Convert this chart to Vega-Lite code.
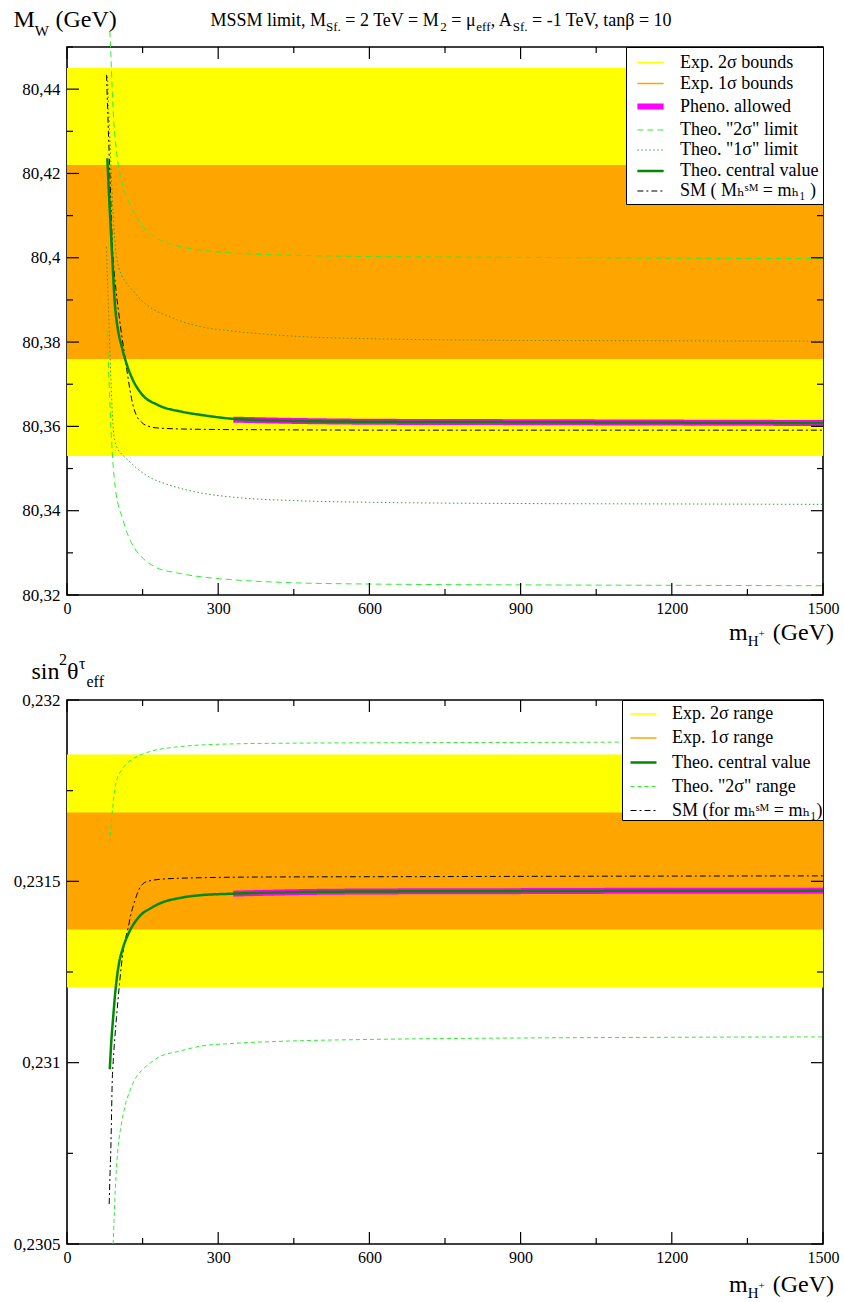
{
  "$schema": "https://vega.github.io/schema/vega-lite/v6.json",
  "background": "white",
  "padding": {"left": 12, "top": 7, "right": 0, "bottom": 0},
  "datasets": {
    "x_ticks": [{"v": 0}, {"v": 150}, {"v": 300}, {"v": 450}, {"v": 600}, {"v": 750}, {"v": 900}, {"v": 1050}, {"v": 1200}, {"v": 1350}, {"v": 1500}],
    "mw_ticks": [{"v": 80.32}, {"v": 80.33}, {"v": 80.34}, {"v": 80.35}, {"v": 80.36}, {"v": 80.37}, {"v": 80.38}, {"v": 80.39}, {"v": 80.4}, {"v": 80.41}, {"v": 80.42}, {"v": 80.43}, {"v": 80.44}, {"v": 80.45}],
    "s2_ticks": [{"v": 0.2305}, {"v": 0.23075}, {"v": 0.231}, {"v": 0.23125}, {"v": 0.2315}, {"v": 0.23175}, {"v": 0.232}],
    "mw_bands": [
      {"band": "2σ", "lo": 80.353, "hi": 80.445},
      {"band": "1σ", "lo": 80.376, "hi": 80.422}
    ],
    "mw_lines": [
      {"series": "Pheno. allowed", "part": "p", "mh": 330, "mw": 80.3616},
      {"series": "Pheno. allowed", "part": "p", "mh": 450, "mw": 80.3613},
      {"series": "Pheno. allowed", "part": "p", "mh": 600, "mw": 80.3611},
      {"series": "Pheno. allowed", "part": "p", "mh": 900, "mw": 80.361},
      {"series": "Pheno. allowed", "part": "p", "mh": 1200, "mw": 80.3609},
      {"series": "Pheno. allowed", "part": "p", "mh": 1500, "mw": 80.3608},

      {"series": "Theo. \"2σ\" limit", "part": "u", "mh": 85, "mw": 80.4537},
      {"series": "Theo. \"2σ\" limit", "part": "u", "mh": 86.5, "mw": 80.45},
      {"series": "Theo. \"2σ\" limit", "part": "u", "mh": 89.6, "mw": 80.44},
      {"series": "Theo. \"2σ\" limit", "part": "u", "mh": 93, "mw": 80.432},
      {"series": "Theo. \"2σ\" limit", "part": "u", "mh": 98, "mw": 80.4255},
      {"series": "Theo. \"2σ\" limit", "part": "u", "mh": 104.7, "mw": 80.42},
      {"series": "Theo. \"2σ\" limit", "part": "u", "mh": 112, "mw": 80.4165},
      {"series": "Theo. \"2σ\" limit", "part": "u", "mh": 120, "mw": 80.414},
      {"series": "Theo. \"2σ\" limit", "part": "u", "mh": 132, "mw": 80.411},
      {"series": "Theo. \"2σ\" limit", "part": "u", "mh": 147.7, "mw": 80.4078},
      {"series": "Theo. \"2σ\" limit", "part": "u", "mh": 180, "mw": 80.4045},
      {"series": "Theo. \"2σ\" limit", "part": "u", "mh": 213.8, "mw": 80.403},
      {"series": "Theo. \"2σ\" limit", "part": "u", "mh": 266.7, "mw": 80.4018},
      {"series": "Theo. \"2σ\" limit", "part": "u", "mh": 330, "mw": 80.4011},
      {"series": "Theo. \"2σ\" limit", "part": "u", "mh": 450, "mw": 80.4006},
      {"series": "Theo. \"2σ\" limit", "part": "u", "mh": 600, "mw": 80.4003},
      {"series": "Theo. \"2σ\" limit", "part": "u", "mh": 900, "mw": 80.4001},
      {"series": "Theo. \"2σ\" limit", "part": "u", "mh": 1200, "mw": 80.3999},
      {"series": "Theo. \"2σ\" limit", "part": "u", "mh": 1500, "mw": 80.3998},

      {"series": "Theo. \"2σ\" limit", "part": "l", "mh": 79.7, "mw": 80.3824},
      {"series": "Theo. \"2σ\" limit", "part": "l", "mh": 81, "mw": 80.378},
      {"series": "Theo. \"2σ\" limit", "part": "l", "mh": 83, "mw": 80.372},
      {"series": "Theo. \"2σ\" limit", "part": "l", "mh": 85, "mw": 80.366},
      {"series": "Theo. \"2σ\" limit", "part": "l", "mh": 87, "mw": 80.36},
      {"series": "Theo. \"2σ\" limit", "part": "l", "mh": 89, "mw": 80.3555},
      {"series": "Theo. \"2σ\" limit", "part": "l", "mh": 91, "mw": 80.3515},
      {"series": "Theo. \"2σ\" limit", "part": "l", "mh": 94, "mw": 80.3475},
      {"series": "Theo. \"2σ\" limit", "part": "l", "mh": 98, "mw": 80.3435},
      {"series": "Theo. \"2σ\" limit", "part": "l", "mh": 103, "mw": 80.3408},
      {"series": "Theo. \"2σ\" limit", "part": "l", "mh": 108, "mw": 80.339},
      {"series": "Theo. \"2σ\" limit", "part": "l", "mh": 120, "mw": 80.3345},
      {"series": "Theo. \"2σ\" limit", "part": "l", "mh": 134.5, "mw": 80.331},
      {"series": "Theo. \"2σ\" limit", "part": "l", "mh": 150, "mw": 80.3288},
      {"series": "Theo. \"2σ\" limit", "part": "l", "mh": 174, "mw": 80.3267},
      {"series": "Theo. \"2σ\" limit", "part": "l", "mh": 220, "mw": 80.3252},
      {"series": "Theo. \"2σ\" limit", "part": "l", "mh": 266.7, "mw": 80.3243},
      {"series": "Theo. \"2σ\" limit", "part": "l", "mh": 330, "mw": 80.3236},
      {"series": "Theo. \"2σ\" limit", "part": "l", "mh": 450, "mw": 80.3229},
      {"series": "Theo. \"2σ\" limit", "part": "l", "mh": 600, "mw": 80.3226},
      {"series": "Theo. \"2σ\" limit", "part": "l", "mh": 900, "mw": 80.3224},
      {"series": "Theo. \"2σ\" limit", "part": "l", "mh": 1200, "mw": 80.3223},
      {"series": "Theo. \"2σ\" limit", "part": "l", "mh": 1500, "mw": 80.3222},

      {"series": "Theo. \"1σ\" limit", "part": "u", "mh": 80.5, "mw": 80.443},
      {"series": "Theo. \"1σ\" limit", "part": "u", "mh": 82, "mw": 80.4375},
      {"series": "Theo. \"1σ\" limit", "part": "u", "mh": 84, "mw": 80.4315},
      {"series": "Theo. \"1σ\" limit", "part": "u", "mh": 86, "mw": 80.4255},
      {"series": "Theo. \"1σ\" limit", "part": "u", "mh": 88, "mw": 80.4195},
      {"series": "Theo. \"1σ\" limit", "part": "u", "mh": 90, "mw": 80.414},
      {"series": "Theo. \"1σ\" limit", "part": "u", "mh": 93, "mw": 80.4075},
      {"series": "Theo. \"1σ\" limit", "part": "u", "mh": 96, "mw": 80.4025},
      {"series": "Theo. \"1σ\" limit", "part": "u", "mh": 101, "mw": 80.3985},
      {"series": "Theo. \"1σ\" limit", "part": "u", "mh": 108, "mw": 80.396},
      {"series": "Theo. \"1σ\" limit", "part": "u", "mh": 118, "mw": 80.394},
      {"series": "Theo. \"1σ\" limit", "part": "u", "mh": 131, "mw": 80.3922},
      {"series": "Theo. \"1σ\" limit", "part": "u", "mh": 148, "mw": 80.3898},
      {"series": "Theo. \"1σ\" limit", "part": "u", "mh": 168, "mw": 80.388},
      {"series": "Theo. \"1σ\" limit", "part": "u", "mh": 200, "mw": 80.3862},
      {"series": "Theo. \"1σ\" limit", "part": "u", "mh": 227, "mw": 80.3849},
      {"series": "Theo. \"1σ\" limit", "part": "u", "mh": 267, "mw": 80.3836},
      {"series": "Theo. \"1σ\" limit", "part": "u", "mh": 330, "mw": 80.3826},
      {"series": "Theo. \"1σ\" limit", "part": "u", "mh": 450, "mw": 80.3814},
      {"series": "Theo. \"1σ\" limit", "part": "u", "mh": 600, "mw": 80.3808},
      {"series": "Theo. \"1σ\" limit", "part": "u", "mh": 900, "mw": 80.3804},
      {"series": "Theo. \"1σ\" limit", "part": "u", "mh": 1200, "mw": 80.3803},
      {"series": "Theo. \"1σ\" limit", "part": "u", "mh": 1500, "mw": 80.3802},

      {"series": "Theo. \"1σ\" limit", "part": "l", "mh": 78.3, "mw": 80.4026},
      {"series": "Theo. \"1σ\" limit", "part": "l", "mh": 80, "mw": 80.396},
      {"series": "Theo. \"1σ\" limit", "part": "l", "mh": 82, "mw": 80.389},
      {"series": "Theo. \"1σ\" limit", "part": "l", "mh": 84, "mw": 80.382},
      {"series": "Theo. \"1σ\" limit", "part": "l", "mh": 86, "mw": 80.375},
      {"series": "Theo. \"1σ\" limit", "part": "l", "mh": 88, "mw": 80.3685},
      {"series": "Theo. \"1σ\" limit", "part": "l", "mh": 90, "mw": 80.3628},
      {"series": "Theo. \"1σ\" limit", "part": "l", "mh": 92, "mw": 80.359},
      {"series": "Theo. \"1σ\" limit", "part": "l", "mh": 95, "mw": 80.3565},
      {"series": "Theo. \"1σ\" limit", "part": "l", "mh": 100, "mw": 80.3548},
      {"series": "Theo. \"1σ\" limit", "part": "l", "mh": 108, "mw": 80.3535},
      {"series": "Theo. \"1σ\" limit", "part": "l", "mh": 121, "mw": 80.352},
      {"series": "Theo. \"1σ\" limit", "part": "l", "mh": 140, "mw": 80.3499},
      {"series": "Theo. \"1σ\" limit", "part": "l", "mh": 167.6, "mw": 80.3477},
      {"series": "Theo. \"1σ\" limit", "part": "l", "mh": 200, "mw": 80.3462},
      {"series": "Theo. \"1σ\" limit", "part": "l", "mh": 266.7, "mw": 80.3442},
      {"series": "Theo. \"1σ\" limit", "part": "l", "mh": 330, "mw": 80.3432},
      {"series": "Theo. \"1σ\" limit", "part": "l", "mh": 450, "mw": 80.3424},
      {"series": "Theo. \"1σ\" limit", "part": "l", "mh": 600, "mw": 80.342},
      {"series": "Theo. \"1σ\" limit", "part": "l", "mh": 900, "mw": 80.3417},
      {"series": "Theo. \"1σ\" limit", "part": "l", "mh": 1200, "mw": 80.3416},
      {"series": "Theo. \"1σ\" limit", "part": "l", "mh": 1500, "mw": 80.3415},

      {"series": "SM ( Mₕˢᴹ = mₕ₁ )", "part": "s", "mh": 78.5, "mw": 80.4434},
      {"series": "SM ( Mₕˢᴹ = mₕ₁ )", "part": "s", "mh": 80, "mw": 80.4375},
      {"series": "SM ( Mₕˢᴹ = mₕ₁ )", "part": "s", "mh": 82, "mw": 80.4305},
      {"series": "SM ( Mₕˢᴹ = mₕ₁ )", "part": "s", "mh": 84, "mw": 80.4235},
      {"series": "SM ( Mₕˢᴹ = mₕ₁ )", "part": "s", "mh": 86, "mw": 80.4165},
      {"series": "SM ( Mₕˢᴹ = mₕ₁ )", "part": "s", "mh": 88, "mw": 80.4095},
      {"series": "SM ( Mₕˢᴹ = mₕ₁ )", "part": "s", "mh": 90, "mw": 80.403},
      {"series": "SM ( Mₕˢᴹ = mₕ₁ )", "part": "s", "mh": 93, "mw": 80.3975},
      {"series": "SM ( Mₕˢᴹ = mₕ₁ )", "part": "s", "mh": 97, "mw": 80.3925},
      {"series": "SM ( Mₕˢᴹ = mₕ₁ )", "part": "s", "mh": 101.5, "mw": 80.388},
      {"series": "SM ( Mₕˢᴹ = mₕ₁ )", "part": "s", "mh": 106, "mw": 80.3838},
      {"series": "SM ( Mₕˢᴹ = mₕ₁ )", "part": "s", "mh": 111.4, "mw": 80.3793},
      {"series": "SM ( Mₕˢᴹ = mₕ₁ )", "part": "s", "mh": 118, "mw": 80.374},
      {"series": "SM ( Mₕˢᴹ = mₕ₁ )", "part": "s", "mh": 124.6, "mw": 80.3689},
      {"series": "SM ( Mₕˢᴹ = mₕ₁ )", "part": "s", "mh": 130, "mw": 80.3655},
      {"series": "SM ( Mₕˢᴹ = mₕ₁ )", "part": "s", "mh": 137, "mw": 80.3628},
      {"series": "SM ( Mₕˢᴹ = mₕ₁ )", "part": "s", "mh": 147.7, "mw": 80.361},
      {"series": "SM ( Mₕˢᴹ = mₕ₁ )", "part": "s", "mh": 160, "mw": 80.3601},
      {"series": "SM ( Mₕˢᴹ = mₕ₁ )", "part": "s", "mh": 180.8, "mw": 80.3596},
      {"series": "SM ( Mₕˢᴹ = mₕ₁ )", "part": "s", "mh": 266.7, "mw": 80.3593},
      {"series": "SM ( Mₕˢᴹ = mₕ₁ )", "part": "s", "mh": 400, "mw": 80.3592},
      {"series": "SM ( Mₕˢᴹ = mₕ₁ )", "part": "s", "mh": 700, "mw": 80.3591},
      {"series": "SM ( Mₕˢᴹ = mₕ₁ )", "part": "s", "mh": 1500, "mw": 80.3591},

      {"series": "Theo. central value", "part": "c", "mh": 80, "mw": 80.4236},
      {"series": "Theo. central value", "part": "c", "mh": 82, "mw": 80.4185},
      {"series": "Theo. central value", "part": "c", "mh": 84, "mw": 80.4135},
      {"series": "Theo. central value", "part": "c", "mh": 86, "mw": 80.4088},
      {"series": "Theo. central value", "part": "c", "mh": 88, "mw": 80.4042},
      {"series": "Theo. central value", "part": "c", "mh": 90, "mw": 80.3995},
      {"series": "Theo. central value", "part": "c", "mh": 92, "mw": 80.395},
      {"series": "Theo. central value", "part": "c", "mh": 94, "mw": 80.3908},
      {"series": "Theo. central value", "part": "c", "mh": 97, "mw": 80.3865},
      {"series": "Theo. central value", "part": "c", "mh": 101, "mw": 80.383},
      {"series": "Theo. central value", "part": "c", "mh": 108, "mw": 80.3792},
      {"series": "Theo. central value", "part": "c", "mh": 118, "mw": 80.3749},
      {"series": "Theo. central value", "part": "c", "mh": 130, "mw": 80.3712},
      {"series": "Theo. central value", "part": "c", "mh": 148, "mw": 80.3677},
      {"series": "Theo. central value", "part": "c", "mh": 180, "mw": 80.3651},
      {"series": "Theo. central value", "part": "c", "mh": 227, "mw": 80.3635},
      {"series": "Theo. central value", "part": "c", "mh": 267, "mw": 80.3627},
      {"series": "Theo. central value", "part": "c", "mh": 330, "mw": 80.3618},
      {"series": "Theo. central value", "part": "c", "mh": 450, "mw": 80.3613},
      {"series": "Theo. central value", "part": "c", "mh": 600, "mw": 80.3611},
      {"series": "Theo. central value", "part": "c", "mh": 900, "mw": 80.361},
      {"series": "Theo. central value", "part": "c", "mh": 1200, "mw": 80.3609},
      {"series": "Theo. central value", "part": "c", "mh": 1500, "mw": 80.3608}
    ],
    "s2_bands": [
      {"band": "2σ", "lo": 0.231207, "hi": 0.23185},
      {"band": "1σ", "lo": 0.231367, "hi": 0.23169}
    ],
    "s2_lines": [
      {"series": "Pheno. allowed", "part": "p", "mh": 330, "s2": 0.231466},
      {"series": "Pheno. allowed", "part": "p", "mh": 450, "s2": 0.23147},
      {"series": "Pheno. allowed", "part": "p", "mh": 600, "s2": 0.231472},
      {"series": "Pheno. allowed", "part": "p", "mh": 900, "s2": 0.231473},
      {"series": "Pheno. allowed", "part": "p", "mh": 1200, "s2": 0.231474},
      {"series": "Pheno. allowed", "part": "p", "mh": 1500, "s2": 0.231474},

      {"series": "Theo. \"2σ\" range", "part": "u", "mh": 83.7, "s2": 0.231607},
      {"series": "Theo. \"2σ\" range", "part": "u", "mh": 86, "s2": 0.23163},
      {"series": "Theo. \"2σ\" range", "part": "u", "mh": 88.2, "s2": 0.231667},
      {"series": "Theo. \"2σ\" range", "part": "u", "mh": 91.6, "s2": 0.231715},
      {"series": "Theo. \"2σ\" range", "part": "u", "mh": 94.5, "s2": 0.23175},
      {"series": "Theo. \"2σ\" range", "part": "u", "mh": 98.2, "s2": 0.231777},
      {"series": "Theo. \"2σ\" range", "part": "u", "mh": 104, "s2": 0.231797},
      {"series": "Theo. \"2σ\" range", "part": "u", "mh": 111.4, "s2": 0.231813},
      {"series": "Theo. \"2σ\" range", "part": "u", "mh": 122, "s2": 0.231829},
      {"series": "Theo. \"2σ\" range", "part": "u", "mh": 134.5, "s2": 0.231841},
      {"series": "Theo. \"2σ\" range", "part": "u", "mh": 150, "s2": 0.231851},
      {"series": "Theo. \"2σ\" range", "part": "u", "mh": 167.6, "s2": 0.231859},
      {"series": "Theo. \"2σ\" range", "part": "u", "mh": 213.8, "s2": 0.23187},
      {"series": "Theo. \"2σ\" range", "part": "u", "mh": 266.7, "s2": 0.231876},
      {"series": "Theo. \"2σ\" range", "part": "u", "mh": 330, "s2": 0.231879},
      {"series": "Theo. \"2σ\" range", "part": "u", "mh": 450, "s2": 0.231881},
      {"series": "Theo. \"2σ\" range", "part": "u", "mh": 600, "s2": 0.231882},
      {"series": "Theo. \"2σ\" range", "part": "u", "mh": 900, "s2": 0.231883},
      {"series": "Theo. \"2σ\" range", "part": "u", "mh": 1200, "s2": 0.231884},
      {"series": "Theo. \"2σ\" range", "part": "u", "mh": 1500, "s2": 0.231884},

      {"series": "Theo. \"2σ\" range", "part": "l", "mh": 91.5, "s2": 0.2305},
      {"series": "Theo. \"2σ\" range", "part": "l", "mh": 93.6, "s2": 0.230573},
      {"series": "Theo. \"2σ\" range", "part": "l", "mh": 95.8, "s2": 0.23065},
      {"series": "Theo. \"2σ\" range", "part": "l", "mh": 98.2, "s2": 0.230711},
      {"series": "Theo. \"2σ\" range", "part": "l", "mh": 102, "s2": 0.230775},
      {"series": "Theo. \"2σ\" range", "part": "l", "mh": 108, "s2": 0.230831},
      {"series": "Theo. \"2σ\" range", "part": "l", "mh": 115, "s2": 0.23088},
      {"series": "Theo. \"2σ\" range", "part": "l", "mh": 124.6, "s2": 0.230922},
      {"series": "Theo. \"2σ\" range", "part": "l", "mh": 135, "s2": 0.230955},
      {"series": "Theo. \"2σ\" range", "part": "l", "mh": 147.7, "s2": 0.230978},
      {"series": "Theo. \"2σ\" range", "part": "l", "mh": 165, "s2": 0.230999},
      {"series": "Theo. \"2σ\" range", "part": "l", "mh": 180.8, "s2": 0.231014},
      {"series": "Theo. \"2σ\" range", "part": "l", "mh": 227, "s2": 0.231033},
      {"series": "Theo. \"2σ\" range", "part": "l", "mh": 266.7, "s2": 0.231046},
      {"series": "Theo. \"2σ\" range", "part": "l", "mh": 330, "s2": 0.231053},
      {"series": "Theo. \"2σ\" range", "part": "l", "mh": 450, "s2": 0.23106},
      {"series": "Theo. \"2σ\" range", "part": "l", "mh": 600, "s2": 0.231064},
      {"series": "Theo. \"2σ\" range", "part": "l", "mh": 900, "s2": 0.231068},
      {"series": "Theo. \"2σ\" range", "part": "l", "mh": 1200, "s2": 0.23107},
      {"series": "Theo. \"2σ\" range", "part": "l", "mh": 1500, "s2": 0.231071},

      {"series": "SM (for mₕˢᴹ = mₕ₁)", "part": "s", "mh": 83.7, "s2": 0.23061},
      {"series": "SM (for mₕˢᴹ = mₕ₁)", "part": "s", "mh": 85.3, "s2": 0.23069},
      {"series": "SM (for mₕˢᴹ = mₕ₁)", "part": "s", "mh": 86.9, "s2": 0.230757},
      {"series": "SM (for mₕˢᴹ = mₕ₁)", "part": "s", "mh": 88.3, "s2": 0.23085},
      {"series": "SM (for mₕˢᴹ = mₕ₁)", "part": "s", "mh": 89.6, "s2": 0.230941},
      {"series": "SM (for mₕˢᴹ = mₕ₁)", "part": "s", "mh": 92, "s2": 0.23101},
      {"series": "SM (for mₕˢᴹ = mₕ₁)", "part": "s", "mh": 95, "s2": 0.23107},
      {"series": "SM (for mₕˢᴹ = mₕ₁)", "part": "s", "mh": 98.2, "s2": 0.231125},
      {"series": "SM (for mₕˢᴹ = mₕ₁)", "part": "s", "mh": 104, "s2": 0.231215},
      {"series": "SM (for mₕˢᴹ = mₕ₁)", "part": "s", "mh": 111.4, "s2": 0.231308},
      {"series": "SM (for mₕˢᴹ = mₕ₁)", "part": "s", "mh": 121.3, "s2": 0.231372},
      {"series": "SM (for mₕˢᴹ = mₕ₁)", "part": "s", "mh": 127, "s2": 0.23141},
      {"series": "SM (for mₕˢᴹ = mₕ₁)", "part": "s", "mh": 134.5, "s2": 0.231446},
      {"series": "SM (for mₕˢᴹ = mₕ₁)", "part": "s", "mh": 143, "s2": 0.231478},
      {"series": "SM (for mₕˢᴹ = mₕ₁)", "part": "s", "mh": 154.3, "s2": 0.231497},
      {"series": "SM (for mₕˢᴹ = mₕ₁)", "part": "s", "mh": 170, "s2": 0.231503},
      {"series": "SM (for mₕˢᴹ = mₕ₁)", "part": "s", "mh": 187.4, "s2": 0.231506},
      {"series": "SM (for mₕˢᴹ = mₕ₁)", "part": "s", "mh": 266.7, "s2": 0.23151},
      {"series": "SM (for mₕˢᴹ = mₕ₁)", "part": "s", "mh": 400, "s2": 0.231512},
      {"series": "SM (for mₕˢᴹ = mₕ₁)", "part": "s", "mh": 700, "s2": 0.231513},
      {"series": "SM (for mₕˢᴹ = mₕ₁)", "part": "s", "mh": 1000, "s2": 0.231514},
      {"series": "SM (for mₕˢᴹ = mₕ₁)", "part": "s", "mh": 1500, "s2": 0.231515},

      {"series": "Theo. central value", "part": "c", "mh": 84.9, "s2": 0.230982},
      {"series": "Theo. central value", "part": "c", "mh": 88, "s2": 0.23106},
      {"series": "Theo. central value", "part": "c", "mh": 91.6, "s2": 0.231125},
      {"series": "Theo. central value", "part": "c", "mh": 96.2, "s2": 0.2312},
      {"series": "Theo. central value", "part": "c", "mh": 100, "s2": 0.231245},
      {"series": "Theo. central value", "part": "c", "mh": 104, "s2": 0.23128},
      {"series": "Theo. central value", "part": "c", "mh": 110, "s2": 0.231312},
      {"series": "Theo. central value", "part": "c", "mh": 121.3, "s2": 0.231354},
      {"series": "Theo. central value", "part": "c", "mh": 135, "s2": 0.231388},
      {"series": "Theo. central value", "part": "c", "mh": 147.7, "s2": 0.231409},
      {"series": "Theo. central value", "part": "c", "mh": 165, "s2": 0.231425},
      {"series": "Theo. central value", "part": "c", "mh": 180.8, "s2": 0.231437},
      {"series": "Theo. central value", "part": "c", "mh": 227, "s2": 0.231455},
      {"series": "Theo. central value", "part": "c", "mh": 266.7, "s2": 0.231462},
      {"series": "Theo. central value", "part": "c", "mh": 330, "s2": 0.231466},
      {"series": "Theo. central value", "part": "c", "mh": 450, "s2": 0.23147},
      {"series": "Theo. central value", "part": "c", "mh": 600, "s2": 0.231472},
      {"series": "Theo. central value", "part": "c", "mh": 900, "s2": 0.231473},
      {"series": "Theo. central value", "part": "c", "mh": 1200, "s2": 0.231474},
      {"series": "Theo. central value", "part": "c", "mh": 1500, "s2": 0.231474}
    ]
  },
  "vconcat": [
    {
      "width": 756,
      "height": 548,
      "resolve": {"axis": {"x": "independent", "y": "independent"}},
      "layer": [
        {
          "data": {"name": "mw_bands"},
          "mark": {"type": "rect"},
          "encoding": {
            "y": {"field": "lo", "type": "quantitative", "scale": {"domain": [80.32, 80.45], "nice": false, "zero": false},
                  "axis": {"orient": "left", "values": [80.32, 80.34, 80.36, 80.38, 80.4, 80.42, 80.44], "ticks": false, "labelPadding": 7, "labelFontSize": 17, "labelExpr": "replace(format(datum.value, '.2~f'), '.', ',')", "title": null}},
            "y2": {"field": "hi"},
            "fill": {"field": "band", "type": "nominal", "scale": {"domain": ["2σ", "1σ"], "range": ["#ffff00", "#ffa500"]}, "legend": null}
          }
        },
        {
          "data": {"name": "mw_lines"},
          "transform": [{"filter": "datum.series === 'Pheno. allowed'"}],
          "mark": {"type": "line", "strokeCap": "butt", "interpolate": "monotone"},
          "encoding": {
            "x": {"field": "mh", "type": "quantitative", "scale": {"domain": [0, 1500], "nice": false, "zero": false},
                  "axis": {"orient": "bottom", "values": [0, 300, 600, 900, 1200, 1500], "format": "d", "ticks": false, "labelPadding": 5, "labelFlush": false, "labelOverlap": false, "title": null}},
            "y": {"field": "mw", "type": "quantitative", "scale": {"domain": [80.32, 80.45], "nice": false, "zero": false}, "axis": null},
            "color": {"field": "series", "type": "nominal",
              "scale": {"domain": ["Exp. 2σ bounds", "Exp. 1σ bounds", "Pheno. allowed", "Theo. \"2σ\" limit", "Theo. \"1σ\" limit", "Theo. central value", "SM ( Mₕˢᴹ = mₕ₁ )"], "range": ["#ffff00", "#ffa500", "#ff00ff", "#33ee33", "#3d9a3d", "#008a00", "#000000"]},
              "legend": {"title": null, "orient": "top-right", "offset": 0, "fillColor": "white", "strokeColor": "black", "padding": 4, "symbolOffset": 7, "symbolType": "M-1.25,0H1.25", "symbolSize": 441, "labelFontSize": 18, "labelColor": "black", "labelOffset": 16, "rowPadding": 0, "labelLimit": 400}},
            "strokeDash": {"field": "series", "type": "nominal",
              "scale": {"domain": ["Exp. 2σ bounds", "Exp. 1σ bounds", "Pheno. allowed", "Theo. \"2σ\" limit", "Theo. \"1σ\" limit", "Theo. central value", "SM ( Mₕˢᴹ = mₕ₁ )"], "range": [[1, 0], [1, 0], [1, 0], [6, 4], [1.5, 2.5], [1, 0], [6, 3, 2, 3]]},
              "legend": {"title": null, "orient": "top-right", "offset": 0, "fillColor": "white", "strokeColor": "black", "padding": 4, "symbolOffset": 7, "symbolType": "M-1.25,0H1.25", "symbolSize": 441, "labelFontSize": 18, "labelColor": "black", "labelOffset": 16, "rowPadding": 0, "labelLimit": 400}},
            "strokeWidth": {"field": "series", "type": "nominal",
              "scale": {"type": "ordinal", "domain": ["Exp. 2σ bounds", "Exp. 1σ bounds", "Pheno. allowed", "Theo. \"2σ\" limit", "Theo. \"1σ\" limit", "Theo. central value", "SM ( Mₕˢᴹ = mₕ₁ )"], "range": [1.5, 1.5, 6, 1, 1, 2.5, 1]},
              "legend": {"title": null, "orient": "top-right", "offset": 0, "fillColor": "white", "strokeColor": "black", "padding": 4, "symbolOffset": 7, "symbolType": "M-1.25,0H1.25", "symbolSize": 441, "labelFontSize": 18, "labelColor": "black", "labelOffset": 16, "rowPadding": 0, "labelLimit": 400}},
            "detail": {"field": "part"}
          }
        },
        {
          "data": {"name": "mw_lines"},
          "transform": [{"filter": "datum.series !== 'Pheno. allowed'"}],
          "mark": {"type": "line", "strokeCap": "butt", "interpolate": "monotone"},
          "encoding": {
            "x": {"field": "mh", "type": "quantitative", "scale": {"domain": [0, 1500], "nice": false, "zero": false}, "axis": null},
            "y": {"field": "mw", "type": "quantitative", "scale": {"domain": [80.32, 80.45], "nice": false, "zero": false}, "axis": null},
            "color": {"field": "series", "type": "nominal",
              "scale": {"domain": ["Exp. 2σ bounds", "Exp. 1σ bounds", "Pheno. allowed", "Theo. \"2σ\" limit", "Theo. \"1σ\" limit", "Theo. central value", "SM ( Mₕˢᴹ = mₕ₁ )"], "range": ["#ffff00", "#ffa500", "#ff00ff", "#33ee33", "#3d9a3d", "#008a00", "#000000"]},
              "legend": {"title": null, "orient": "top-right", "offset": 0, "fillColor": "white", "strokeColor": "black", "padding": 4, "symbolOffset": 7, "symbolType": "M-1.25,0H1.25", "symbolSize": 441, "labelFontSize": 18, "labelColor": "black", "labelOffset": 16, "rowPadding": 0, "labelLimit": 400}},
            "strokeDash": {"field": "series", "type": "nominal",
              "scale": {"domain": ["Exp. 2σ bounds", "Exp. 1σ bounds", "Pheno. allowed", "Theo. \"2σ\" limit", "Theo. \"1σ\" limit", "Theo. central value", "SM ( Mₕˢᴹ = mₕ₁ )"], "range": [[1, 0], [1, 0], [1, 0], [6, 4], [1.5, 2.5], [1, 0], [6, 3, 2, 3]]},
              "legend": {"title": null, "orient": "top-right", "offset": 0, "fillColor": "white", "strokeColor": "black", "padding": 4, "symbolOffset": 7, "symbolType": "M-1.25,0H1.25", "symbolSize": 441, "labelFontSize": 18, "labelColor": "black", "labelOffset": 16, "rowPadding": 0, "labelLimit": 400}},
            "strokeWidth": {"field": "series", "type": "nominal",
              "scale": {"type": "ordinal", "domain": ["Exp. 2σ bounds", "Exp. 1σ bounds", "Pheno. allowed", "Theo. \"2σ\" limit", "Theo. \"1σ\" limit", "Theo. central value", "SM ( Mₕˢᴹ = mₕ₁ )"], "range": [1.5, 1.5, 6, 1, 1, 2.5, 1]},
              "legend": {"title": null, "orient": "top-right", "offset": 0, "fillColor": "white", "strokeColor": "black", "padding": 4, "symbolOffset": 7, "symbolType": "M-1.25,0H1.25", "symbolSize": 441, "labelFontSize": 18, "labelColor": "black", "labelOffset": 16, "rowPadding": 0, "labelLimit": 400}},
            "detail": {"field": "part"}
          }
        },
        {
          "data": {"name": "x_ticks"},
          "mark": {"type": "rule", "color": "black", "strokeWidth": 1.2, "y2Offset": {"expr": "datum.v % 300 === 0 ? -12 : -6"}},
          "encoding": {
            "x": {"field": "v", "type": "quantitative", "scale": {"domain": [0, 1500], "nice": false, "zero": false}, "axis": null},
            "y": {"datum": 80.32, "type": "quantitative", "scale": {"domain": [80.32, 80.45], "nice": false, "zero": false}, "axis": null},
            "y2": {"datum": 80.32}
          }
        },
        {
          "data": {"name": "x_ticks"},
          "mark": {"type": "rule", "color": "black", "strokeWidth": 1.2, "y2Offset": {"expr": "datum.v % 300 === 0 ? 12 : 6"}},
          "encoding": {
            "x": {"field": "v", "type": "quantitative", "scale": {"domain": [0, 1500], "nice": false, "zero": false}, "axis": null},
            "y": {"datum": 80.45, "type": "quantitative", "scale": {"domain": [80.32, 80.45], "nice": false, "zero": false}, "axis": null},
            "y2": {"datum": 80.45}
          }
        },
        {
          "data": {"name": "mw_ticks"},
          "mark": {"type": "rule", "color": "black", "strokeWidth": 1.2, "x2Offset": {"expr": "round(datum.v * 100) % 2 === 0 ? 12 : 6"}},
          "encoding": {
            "y": {"field": "v", "type": "quantitative", "scale": {"domain": [80.32, 80.45], "nice": false, "zero": false}, "axis": null},
            "x": {"datum": 0, "type": "quantitative", "scale": {"domain": [0, 1500], "nice": false, "zero": false}, "axis": null},
            "x2": {"datum": 0}
          }
        },
        {
          "data": {"name": "mw_ticks"},
          "mark": {"type": "rule", "color": "black", "strokeWidth": 1.2, "x2Offset": {"expr": "round(datum.v * 100) % 2 === 0 ? -12 : -6"}},
          "encoding": {
            "y": {"field": "v", "type": "quantitative", "scale": {"domain": [80.32, 80.45], "nice": false, "zero": false}, "axis": null},
            "x": {"datum": 1500, "type": "quantitative", "scale": {"domain": [0, 1500], "nice": false, "zero": false}, "axis": null},
            "x2": {"datum": 1500}
          }
        },
        {"data": {"values": [{}]}, "mark": {"type": "text", "text": "M", "fontSize": 24, "align": "left", "baseline": "alphabetic", "dx": -53.5, "dy": -20},
         "encoding": {"x": {"datum": 0, "type": "quantitative", "scale": {"domain": [0, 1500], "nice": false, "zero": false}, "axis": null}, "y": {"datum": 80.45, "type": "quantitative", "scale": {"domain": [80.32, 80.45], "nice": false, "zero": false}, "axis": null}}},
        {"data": {"values": [{}]}, "mark": {"type": "text", "text": "W", "fontSize": 15, "align": "left", "baseline": "alphabetic", "dx": -32.2, "dy": -11},
         "encoding": {"x": {"datum": 0, "type": "quantitative", "scale": {"domain": [0, 1500], "nice": false, "zero": false}, "axis": null}, "y": {"datum": 80.45, "type": "quantitative", "scale": {"domain": [80.32, 80.45], "nice": false, "zero": false}, "axis": null}}},
        {"data": {"values": [{}]}, "mark": {"type": "text", "text": "(GeV)", "fontSize": 24, "align": "left", "baseline": "alphabetic", "dx": -11.5, "dy": -20},
         "encoding": {"x": {"datum": 0, "type": "quantitative", "scale": {"domain": [0, 1500], "nice": false, "zero": false}, "axis": null}, "y": {"datum": 80.45, "type": "quantitative", "scale": {"domain": [80.32, 80.45], "nice": false, "zero": false}, "axis": null}}},
        {"data": {"values": [{}]}, "mark": {"type": "text", "text": "MSSM limit, M", "fontSize": 18, "align": "left", "baseline": "alphabetic", "dx": 143.5, "dy": -21},
         "encoding": {"x": {"datum": 0, "type": "quantitative", "scale": {"domain": [0, 1500], "nice": false, "zero": false}, "axis": null}, "y": {"datum": 80.45, "type": "quantitative", "scale": {"domain": [80.32, 80.45], "nice": false, "zero": false}, "axis": null}}},
        {"data": {"values": [{}]}, "mark": {"type": "text", "text": "Sf.", "fontSize": 13, "align": "left", "baseline": "alphabetic", "dx": 259, "dy": -16},
         "encoding": {"x": {"datum": 0, "type": "quantitative", "scale": {"domain": [0, 1500], "nice": false, "zero": false}, "axis": null}, "y": {"datum": 80.45, "type": "quantitative", "scale": {"domain": [80.32, 80.45], "nice": false, "zero": false}, "axis": null}}},
        {"data": {"values": [{}]}, "mark": {"type": "text", "text": "= 2 TeV = M", "fontSize": 18, "align": "left", "baseline": "alphabetic", "dx": 278.3, "dy": -21},
         "encoding": {"x": {"datum": 0, "type": "quantitative", "scale": {"domain": [0, 1500], "nice": false, "zero": false}, "axis": null}, "y": {"datum": 80.45, "type": "quantitative", "scale": {"domain": [80.32, 80.45], "nice": false, "zero": false}, "axis": null}}},
        {"data": {"values": [{}]}, "mark": {"type": "text", "text": "2", "fontSize": 13, "align": "left", "baseline": "alphabetic", "dx": 373.3, "dy": -16},
         "encoding": {"x": {"datum": 0, "type": "quantitative", "scale": {"domain": [0, 1500], "nice": false, "zero": false}, "axis": null}, "y": {"datum": 80.45, "type": "quantitative", "scale": {"domain": [80.32, 80.45], "nice": false, "zero": false}, "axis": null}}},
        {"data": {"values": [{}]}, "mark": {"type": "text", "text": "= μ", "fontSize": 18, "align": "left", "baseline": "alphabetic", "dx": 384.3, "dy": -21},
         "encoding": {"x": {"datum": 0, "type": "quantitative", "scale": {"domain": [0, 1500], "nice": false, "zero": false}, "axis": null}, "y": {"datum": 80.45, "type": "quantitative", "scale": {"domain": [80.32, 80.45], "nice": false, "zero": false}, "axis": null}}},
        {"data": {"values": [{}]}, "mark": {"type": "text", "text": "eff", "fontSize": 13, "align": "left", "baseline": "alphabetic", "dx": 409.3, "dy": -16},
         "encoding": {"x": {"datum": 0, "type": "quantitative", "scale": {"domain": [0, 1500], "nice": false, "zero": false}, "axis": null}, "y": {"datum": 80.45, "type": "quantitative", "scale": {"domain": [80.32, 80.45], "nice": false, "zero": false}, "axis": null}}},
        {"data": {"values": [{}]}, "mark": {"type": "text", "text": ", A", "fontSize": 18, "align": "left", "baseline": "alphabetic", "dx": 423.7, "dy": -21},
         "encoding": {"x": {"datum": 0, "type": "quantitative", "scale": {"domain": [0, 1500], "nice": false, "zero": false}, "axis": null}, "y": {"datum": 80.45, "type": "quantitative", "scale": {"domain": [80.32, 80.45], "nice": false, "zero": false}, "axis": null}}},
        {"data": {"values": [{}]}, "mark": {"type": "text", "text": "Sf.", "fontSize": 13, "align": "left", "baseline": "alphabetic", "dx": 445.7, "dy": -16},
         "encoding": {"x": {"datum": 0, "type": "quantitative", "scale": {"domain": [0, 1500], "nice": false, "zero": false}, "axis": null}, "y": {"datum": 80.45, "type": "quantitative", "scale": {"domain": [80.32, 80.45], "nice": false, "zero": false}, "axis": null}}},
        {"data": {"values": [{}]}, "mark": {"type": "text", "text": "= -1 TeV, tanβ = 10", "fontSize": 18, "align": "left", "baseline": "alphabetic", "dx": 465, "dy": -21},
         "encoding": {"x": {"datum": 0, "type": "quantitative", "scale": {"domain": [0, 1500], "nice": false, "zero": false}, "axis": null}, "y": {"datum": 80.45, "type": "quantitative", "scale": {"domain": [80.32, 80.45], "nice": false, "zero": false}, "axis": null}}},
        {"data": {"values": [{}]}, "mark": {"type": "text", "text": "m", "fontSize": 24, "align": "left", "baseline": "alphabetic", "dx": -94, "dy": 45},
         "encoding": {"x": {"datum": 1500, "type": "quantitative", "scale": {"domain": [0, 1500], "nice": false, "zero": false}, "axis": null}, "y": {"datum": 80.32, "type": "quantitative", "scale": {"domain": [80.32, 80.45], "nice": false, "zero": false}, "axis": null}}},
        {"data": {"values": [{}]}, "mark": {"type": "text", "text": "H", "fontSize": 15, "align": "left", "baseline": "alphabetic", "dx": -75.3, "dy": 51},
         "encoding": {"x": {"datum": 1500, "type": "quantitative", "scale": {"domain": [0, 1500], "nice": false, "zero": false}, "axis": null}, "y": {"datum": 80.32, "type": "quantitative", "scale": {"domain": [80.32, 80.45], "nice": false, "zero": false}, "axis": null}}},
        {"data": {"values": [{}]}, "mark": {"type": "text", "text": "+", "fontSize": 11, "align": "left", "baseline": "alphabetic", "dx": -64.5, "dy": 42},
         "encoding": {"x": {"datum": 1500, "type": "quantitative", "scale": {"domain": [0, 1500], "nice": false, "zero": false}, "axis": null}, "y": {"datum": 80.32, "type": "quantitative", "scale": {"domain": [80.32, 80.45], "nice": false, "zero": false}, "axis": null}}},
        {"data": {"values": [{}]}, "mark": {"type": "text", "text": "(GeV)", "fontSize": 24, "align": "left", "baseline": "alphabetic", "dx": -50.3, "dy": 45},
         "encoding": {"x": {"datum": 1500, "type": "quantitative", "scale": {"domain": [0, 1500], "nice": false, "zero": false}, "axis": null}, "y": {"datum": 80.32, "type": "quantitative", "scale": {"domain": [80.32, 80.45], "nice": false, "zero": false}, "axis": null}}}
      ]
    },
    {
      "width": 756,
      "height": 544,
      "resolve": {"axis": {"x": "independent", "y": "independent"}},
      "layer": [
        {
          "data": {"name": "s2_bands"},
          "mark": {"type": "rect"},
          "encoding": {
            "y": {"field": "lo", "type": "quantitative", "scale": {"domain": [0.2305, 0.232], "nice": false, "zero": false},
                  "axis": {"orient": "left", "values": [0.2305, 0.231, 0.2315, 0.232], "ticks": false, "labelPadding": 7, "labelFontSize": 17, "labelExpr": "replace(format(datum.value, '.4~f'), '.', ',')", "title": null}},
            "y2": {"field": "hi"},
            "fill": {"field": "band", "type": "nominal", "scale": {"domain": ["2σ", "1σ"], "range": ["#ffff00", "#ffa500"]}, "legend": null}
          }
        },
        {
          "data": {"name": "s2_lines"},
          "transform": [{"filter": "datum.series === 'Pheno. allowed'"}],
          "mark": {"type": "line", "strokeCap": "butt", "interpolate": "monotone"},
          "encoding": {
            "x": {"field": "mh", "type": "quantitative", "scale": {"domain": [0, 1500], "nice": false, "zero": false},
                  "axis": {"orient": "bottom", "values": [0, 300, 600, 900, 1200, 1500], "format": "d", "ticks": false, "labelPadding": 5, "labelFlush": false, "labelOverlap": false, "title": null}},
            "y": {"field": "s2", "type": "quantitative", "scale": {"domain": [0.2305, 0.232], "nice": false, "zero": false}, "axis": null},
            "color": {"field": "series", "type": "nominal",
              "scale": {"domain": ["Exp. 2σ range", "Exp. 1σ range", "Theo. central value", "Theo. \"2σ\" range", "SM (for mₕˢᴹ = mₕ₁)", "Pheno. allowed"], "range": ["#ffff00", "#ffa500", "#008a00", "#33ee33", "#000000", "#ff00ff"]},
              "legend": {"title": null, "values": ["Exp. 2σ range", "Exp. 1σ range", "Theo. central value", "Theo. \"2σ\" range", "SM (for mₕˢᴹ = mₕ₁)"], "orient": "top-right", "offset": 0, "fillColor": "white", "strokeColor": "black", "padding": 0, "symbolOffset": 7, "symbolType": "stroke", "symbolSize": 676, "labelFontSize": 18, "labelColor": "black", "labelOffset": 14, "rowPadding": 1, "labelLimit": 400}},
            "strokeDash": {"field": "series", "type": "nominal",
              "scale": {"domain": ["Exp. 2σ range", "Exp. 1σ range", "Theo. central value", "Theo. \"2σ\" range", "SM (for mₕˢᴹ = mₕ₁)", "Pheno. allowed"], "range": [[1, 0], [1, 0], [1, 0], [4, 3], [6, 3, 2, 3], [1, 0]]},
              "legend": {"title": null, "values": ["Exp. 2σ range", "Exp. 1σ range", "Theo. central value", "Theo. \"2σ\" range", "SM (for mₕˢᴹ = mₕ₁)"], "orient": "top-right", "offset": 0, "fillColor": "white", "strokeColor": "black", "padding": 0, "symbolOffset": 7, "symbolType": "stroke", "symbolSize": 676, "labelFontSize": 18, "labelColor": "black", "labelOffset": 14, "rowPadding": 1, "labelLimit": 400}},
            "strokeWidth": {"field": "series", "type": "nominal",
              "scale": {"type": "ordinal", "domain": ["Exp. 2σ range", "Exp. 1σ range", "Theo. central value", "Theo. \"2σ\" range", "SM (for mₕˢᴹ = mₕ₁)", "Pheno. allowed"], "range": [1.5, 1.5, 2.5, 1, 1, 6]},
              "legend": {"title": null, "values": ["Exp. 2σ range", "Exp. 1σ range", "Theo. central value", "Theo. \"2σ\" range", "SM (for mₕˢᴹ = mₕ₁)"], "orient": "top-right", "offset": 0, "fillColor": "white", "strokeColor": "black", "padding": 0, "symbolOffset": 7, "symbolType": "stroke", "symbolSize": 676, "labelFontSize": 18, "labelColor": "black", "labelOffset": 14, "rowPadding": 1, "labelLimit": 400}},
            "detail": {"field": "part"}
          }
        },
        {
          "data": {"name": "s2_lines"},
          "transform": [{"filter": "datum.series !== 'Pheno. allowed'"}],
          "mark": {"type": "line", "strokeCap": "butt", "interpolate": "monotone"},
          "encoding": {
            "x": {"field": "mh", "type": "quantitative", "scale": {"domain": [0, 1500], "nice": false, "zero": false}, "axis": null},
            "y": {"field": "s2", "type": "quantitative", "scale": {"domain": [0.2305, 0.232], "nice": false, "zero": false}, "axis": null},
            "color": {"field": "series", "type": "nominal",
              "scale": {"domain": ["Exp. 2σ range", "Exp. 1σ range", "Theo. central value", "Theo. \"2σ\" range", "SM (for mₕˢᴹ = mₕ₁)", "Pheno. allowed"], "range": ["#ffff00", "#ffa500", "#008a00", "#33ee33", "#000000", "#ff00ff"]},
              "legend": {"title": null, "values": ["Exp. 2σ range", "Exp. 1σ range", "Theo. central value", "Theo. \"2σ\" range", "SM (for mₕˢᴹ = mₕ₁)"], "orient": "top-right", "offset": 0, "fillColor": "white", "strokeColor": "black", "padding": 0, "symbolOffset": 7, "symbolType": "stroke", "symbolSize": 676, "labelFontSize": 18, "labelColor": "black", "labelOffset": 14, "rowPadding": 1, "labelLimit": 400}},
            "strokeDash": {"field": "series", "type": "nominal",
              "scale": {"domain": ["Exp. 2σ range", "Exp. 1σ range", "Theo. central value", "Theo. \"2σ\" range", "SM (for mₕˢᴹ = mₕ₁)", "Pheno. allowed"], "range": [[1, 0], [1, 0], [1, 0], [4, 3], [6, 3, 2, 3], [1, 0]]},
              "legend": {"title": null, "values": ["Exp. 2σ range", "Exp. 1σ range", "Theo. central value", "Theo. \"2σ\" range", "SM (for mₕˢᴹ = mₕ₁)"], "orient": "top-right", "offset": 0, "fillColor": "white", "strokeColor": "black", "padding": 0, "symbolOffset": 7, "symbolType": "stroke", "symbolSize": 676, "labelFontSize": 18, "labelColor": "black", "labelOffset": 14, "rowPadding": 1, "labelLimit": 400}},
            "strokeWidth": {"field": "series", "type": "nominal",
              "scale": {"type": "ordinal", "domain": ["Exp. 2σ range", "Exp. 1σ range", "Theo. central value", "Theo. \"2σ\" range", "SM (for mₕˢᴹ = mₕ₁)", "Pheno. allowed"], "range": [1.5, 1.5, 2.5, 1, 1, 6]},
              "legend": {"title": null, "values": ["Exp. 2σ range", "Exp. 1σ range", "Theo. central value", "Theo. \"2σ\" range", "SM (for mₕˢᴹ = mₕ₁)"], "orient": "top-right", "offset": 0, "fillColor": "white", "strokeColor": "black", "padding": 0, "symbolOffset": 7, "symbolType": "stroke", "symbolSize": 676, "labelFontSize": 18, "labelColor": "black", "labelOffset": 14, "rowPadding": 1, "labelLimit": 400}},
            "detail": {"field": "part"}
          }
        },
        {
          "data": {"name": "x_ticks"},
          "mark": {"type": "rule", "color": "black", "strokeWidth": 1.2, "y2Offset": {"expr": "datum.v % 300 === 0 ? -12 : -6"}},
          "encoding": {
            "x": {"field": "v", "type": "quantitative", "scale": {"domain": [0, 1500], "nice": false, "zero": false}, "axis": null},
            "y": {"datum": 0.2305, "type": "quantitative", "scale": {"domain": [0.2305, 0.232], "nice": false, "zero": false}, "axis": null},
            "y2": {"datum": 0.2305}
          }
        },
        {
          "data": {"name": "x_ticks"},
          "mark": {"type": "rule", "color": "black", "strokeWidth": 1.2, "y2Offset": {"expr": "datum.v % 300 === 0 ? 12 : 6"}},
          "encoding": {
            "x": {"field": "v", "type": "quantitative", "scale": {"domain": [0, 1500], "nice": false, "zero": false}, "axis": null},
            "y": {"datum": 0.232, "type": "quantitative", "scale": {"domain": [0.2305, 0.232], "nice": false, "zero": false}, "axis": null},
            "y2": {"datum": 0.232}
          }
        },
        {
          "data": {"name": "s2_ticks"},
          "mark": {"type": "rule", "color": "black", "strokeWidth": 1.2, "x2Offset": {"expr": "round(datum.v * 10000) % 5 === 0 ? 12 : 6"}},
          "encoding": {
            "y": {"field": "v", "type": "quantitative", "scale": {"domain": [0.2305, 0.232], "nice": false, "zero": false}, "axis": null},
            "x": {"datum": 0, "type": "quantitative", "scale": {"domain": [0, 1500], "nice": false, "zero": false}, "axis": null},
            "x2": {"datum": 0}
          }
        },
        {
          "data": {"name": "s2_ticks"},
          "mark": {"type": "rule", "color": "black", "strokeWidth": 1.2, "x2Offset": {"expr": "round(datum.v * 10000) % 5 === 0 ? -12 : -6"}},
          "encoding": {
            "y": {"field": "v", "type": "quantitative", "scale": {"domain": [0.2305, 0.232], "nice": false, "zero": false}, "axis": null},
            "x": {"datum": 1500, "type": "quantitative", "scale": {"domain": [0, 1500], "nice": false, "zero": false}, "axis": null},
            "x2": {"datum": 1500}
          }
        },
        {"data": {"values": [{}]}, "mark": {"type": "text", "text": "sin", "fontSize": 24, "align": "left", "baseline": "alphabetic", "dx": -35.5, "dy": -20.7},
         "encoding": {"x": {"datum": 0, "type": "quantitative", "scale": {"domain": [0, 1500], "nice": false, "zero": false}, "axis": null}, "y": {"datum": 0.232, "type": "quantitative", "scale": {"domain": [0.2305, 0.232], "nice": false, "zero": false}, "axis": null}}},
        {"data": {"values": [{}]}, "mark": {"type": "text", "text": "2", "fontSize": 16, "align": "left", "baseline": "alphabetic", "dx": -8, "dy": -35},
         "encoding": {"x": {"datum": 0, "type": "quantitative", "scale": {"domain": [0, 1500], "nice": false, "zero": false}, "axis": null}, "y": {"datum": 0.232, "type": "quantitative", "scale": {"domain": [0.2305, 0.232], "nice": false, "zero": false}, "axis": null}}},
        {"data": {"values": [{}]}, "mark": {"type": "text", "text": "θ", "fontSize": 24, "align": "left", "baseline": "alphabetic", "dx": 0, "dy": -20.7},
         "encoding": {"x": {"datum": 0, "type": "quantitative", "scale": {"domain": [0, 1500], "nice": false, "zero": false}, "axis": null}, "y": {"datum": 0.232, "type": "quantitative", "scale": {"domain": [0.2305, 0.232], "nice": false, "zero": false}, "axis": null}}},
        {"data": {"values": [{}]}, "mark": {"type": "text", "text": "τ", "fontSize": 16, "align": "left", "baseline": "alphabetic", "dx": 12, "dy": -31},
         "encoding": {"x": {"datum": 0, "type": "quantitative", "scale": {"domain": [0, 1500], "nice": false, "zero": false}, "axis": null}, "y": {"datum": 0.232, "type": "quantitative", "scale": {"domain": [0.2305, 0.232], "nice": false, "zero": false}, "axis": null}}},
        {"data": {"values": [{}]}, "mark": {"type": "text", "text": "eff", "fontSize": 16, "align": "left", "baseline": "alphabetic", "dx": 19.5, "dy": -13},
         "encoding": {"x": {"datum": 0, "type": "quantitative", "scale": {"domain": [0, 1500], "nice": false, "zero": false}, "axis": null}, "y": {"datum": 0.232, "type": "quantitative", "scale": {"domain": [0.2305, 0.232], "nice": false, "zero": false}, "axis": null}}},
        {"data": {"values": [{}]}, "mark": {"type": "text", "text": "m", "fontSize": 24, "align": "left", "baseline": "alphabetic", "dx": -94, "dy": 48},
         "encoding": {"x": {"datum": 1500, "type": "quantitative", "scale": {"domain": [0, 1500], "nice": false, "zero": false}, "axis": null}, "y": {"datum": 0.2305, "type": "quantitative", "scale": {"domain": [0.2305, 0.232], "nice": false, "zero": false}, "axis": null}}},
        {"data": {"values": [{}]}, "mark": {"type": "text", "text": "H", "fontSize": 15, "align": "left", "baseline": "alphabetic", "dx": -75.3, "dy": 54},
         "encoding": {"x": {"datum": 1500, "type": "quantitative", "scale": {"domain": [0, 1500], "nice": false, "zero": false}, "axis": null}, "y": {"datum": 0.2305, "type": "quantitative", "scale": {"domain": [0.2305, 0.232], "nice": false, "zero": false}, "axis": null}}},
        {"data": {"values": [{}]}, "mark": {"type": "text", "text": "+", "fontSize": 11, "align": "left", "baseline": "alphabetic", "dx": -64.5, "dy": 45},
         "encoding": {"x": {"datum": 1500, "type": "quantitative", "scale": {"domain": [0, 1500], "nice": false, "zero": false}, "axis": null}, "y": {"datum": 0.2305, "type": "quantitative", "scale": {"domain": [0.2305, 0.232], "nice": false, "zero": false}, "axis": null}}},
        {"data": {"values": [{}]}, "mark": {"type": "text", "text": "(GeV)", "fontSize": 24, "align": "left", "baseline": "alphabetic", "dx": -50.3, "dy": 48},
         "encoding": {"x": {"datum": 1500, "type": "quantitative", "scale": {"domain": [0, 1500], "nice": false, "zero": false}, "axis": null}, "y": {"datum": 0.2305, "type": "quantitative", "scale": {"domain": [0.2305, 0.232], "nice": false, "zero": false}, "axis": null}}}
      ]
    }
  ],
  "spacing": 105,
  "bounds": "flush",
  "resolve": {
    "scale": {"x": "independent", "y": "independent", "color": "independent", "strokeDash": "independent", "strokeWidth": "independent", "fill": "independent"},
    "legend": {"color": "independent", "strokeDash": "independent", "strokeWidth": "independent", "fill": "independent"}
  },
  "config": {
    "font": "Liberation Serif, Times New Roman, Times, DejaVu Serif, serif",
    "view": {"stroke": "black", "strokeWidth": 1.6},
    "axis": {"grid": false, "domain": false, "tickColor": "black", "tickWidth": 1.2, "labelFont": "Liberation Serif, Times New Roman, Times, DejaVu Serif, serif", "labelFontSize": 16, "labelColor": "black"},
    "legend": {"labelFont": "Liberation Serif, Times New Roman, Times, DejaVu Serif, serif"},
    "text": {"font": "Liberation Serif, Times New Roman, Times, DejaVu Serif, serif", "color": "black"}
  }
}
